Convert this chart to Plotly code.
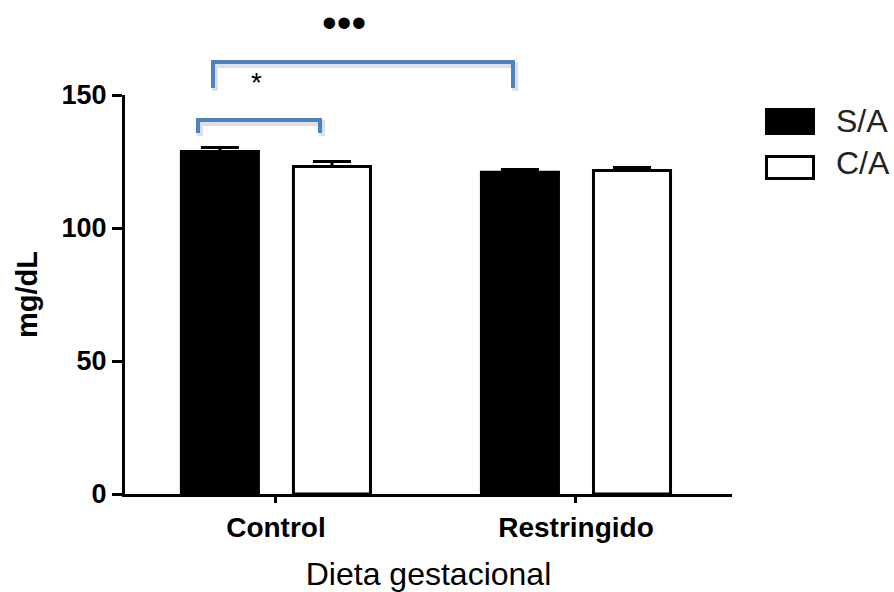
import plotly.graph_objects as go

categories = ["Control", "Restringido"]
sa_values = [128.8, 121.0]
sa_errors = [1.5, 1.0]
ca_values = [123.1, 121.6]
ca_errors = [1.9, 1.1]
series_names = ["S/A", "C/A"]
y_ticks = [0, 50, 100, 150]

FONT = "Liberation Sans, Arial, sans-serif"
BLUE = "#4F81BD"

fig = go.Figure()
fig.add_trace(go.Bar(
    x=categories, y=sa_values, name=series_names[0],
    marker=dict(color="black", line=dict(color="black", width=3)),
    error_y=dict(type="data", array=sa_errors, arrayminus=[0, 0], symmetric=False,
                 color="black", thickness=3, width=19),
    showlegend=False,
))
fig.add_trace(go.Bar(
    x=categories, y=ca_values, name=series_names[1],
    marker=dict(color="white", line=dict(color="black", width=3)),
    error_y=dict(type="data", array=ca_errors, arrayminus=[0, 0], symmetric=False,
                 color="black", thickness=3, width=19),
    showlegend=False,
))

L, R, T, B = 125, 732, 95, 494
W, H = 894, 592


def px(x):
    return (x - L) / (R - L)


def py(y):
    return (B - y) / (B - T)


shapes = []


def bracket(x1, x2, yt, yb):
    path = f"M {px(x1)},{py(yb)} L {px(x1)},{py(yt)} L {px(x2)},{py(yt)} L {px(x2)},{py(yb)}"
    spath = f"M {px(x1+2)},{py(yb+3)} L {px(x1+2)},{py(yt+3)} L {px(x2+2)},{py(yt+3)} L {px(x2+2)},{py(yb+3)}"
    shapes.append(dict(type="path", xref="paper", yref="paper", path=spath,
                       line=dict(color="rgba(0,0,0,0.12)", width=6), layer="below"))
    shapes.append(dict(type="path", xref="paper", yref="paper", path=path,
                       line=dict(color=BLUE, width=4)))


bracket(198, 320, 120, 133)
bracket(213, 513, 62, 88)

# legend swatches
shapes.append(dict(type="rect", xref="paper", yref="paper",
                   x0=px(766), x1=px(814), y0=py(134), y1=py(109),
                   fillcolor="black", line=dict(color="black", width=2)))
shapes.append(dict(type="rect", xref="paper", yref="paper",
                   x0=px(766.5), x1=px(813.5), y0=py(178.5), y1=py(156.5),
                   fillcolor="white", line=dict(color="black", width=3)))

annotations = [
    dict(text="S/A", x=px(834), y=py(121), xref="paper", yref="paper",
         xanchor="left", yanchor="middle", showarrow=False,
         font=dict(family=FONT, size=32, color="#222222")),
    dict(text="C/A", x=px(834), y=py(163), xref="paper", yref="paper",
         xanchor="left", yanchor="middle", showarrow=False,
         font=dict(family=FONT, size=32, color="#222222")),
    dict(text="*", x=px(256), y=py(82), xref="paper", yref="paper",
         xanchor="center", yanchor="middle", showarrow=False,
         font=dict(family=FONT, size=28, color="black")),
    dict(text="•••", x=px(344), y=py(22), xref="paper", yref="paper",
         xanchor="center", yanchor="middle", showarrow=False,
         font=dict(family=FONT, size=42, color="black")),
]

fig.update_layout(
    width=W, height=H,
    margin=dict(l=L, r=W - R, t=T, b=H - B, pad=0),
    paper_bgcolor="white", plot_bgcolor="white",
    barmode="group", bargap=0.253, bargroupgap=0.3125,
    shapes=shapes, annotations=annotations,
    font=dict(family=FONT, color="black"),
    xaxis=dict(
        range=[-0.503, 1.52], showgrid=False, zeroline=False,
        showline=True, linecolor="black", linewidth=3,
        ticks="outside", ticklen=6, tickwidth=3, tickcolor="black",
        tickfont=dict(family=FONT, size=28, weight="bold", color="black"),
        title=dict(text="Dieta gestacional", standoff=24,
                   font=dict(family=FONT, size=32, color="black")),
        automargin=False,
    ),
    yaxis=dict(
        range=[0, 150], tickvals=y_ticks, showgrid=False, zeroline=False,
        showline=True, linecolor="black", linewidth=3,
        ticks="outside", ticklen=10, tickwidth=3, tickcolor="black",
        tickfont=dict(family=FONT, size=27, weight="bold", color="black"),
        title=dict(text="mg/dL", standoff=16,
                   font=dict(family=FONT, size=29, weight="bold", color="black")),
        automargin=False,
    ),
)

fig.write_html(
    "out.html",
    config={"displayModeBar": False},
    post_script="document.body.style.margin='0';document.body.style.overflow='hidden';",
)
